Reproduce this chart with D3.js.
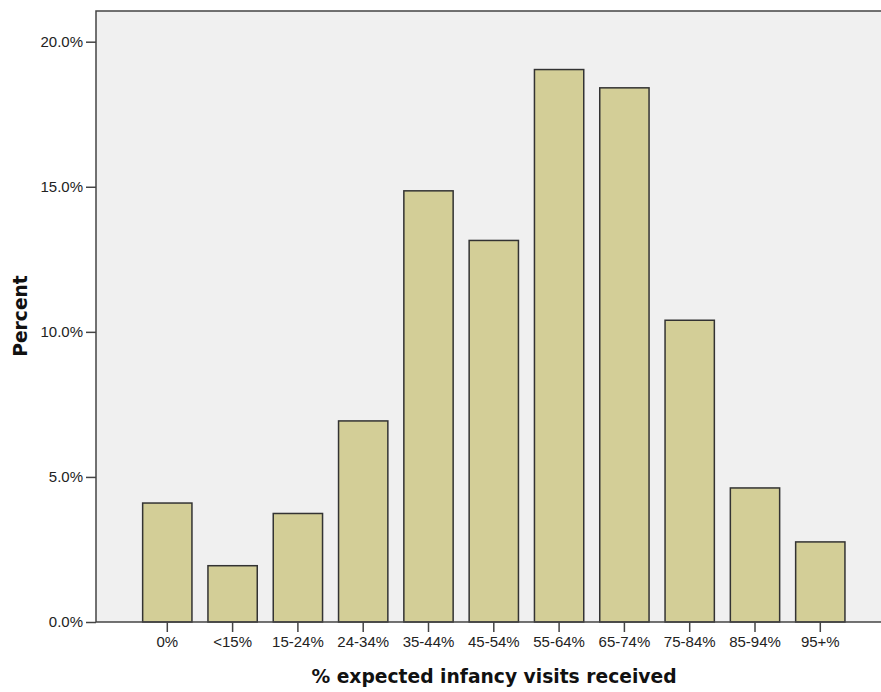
<!DOCTYPE html>
<html>
<head>
<meta charset="utf-8">
<script src="https://cdnjs.cloudflare.com/ajax/libs/d3/7.8.5/d3.min.js"></script>
<style>
  body { margin: 0; background: #fff; }
  svg { display: block; }
</style>
</head>
<body>
<svg id="chart" width="881" height="692"></svg>
<script>
'use strict';

var categories = ['0%', '<15%', '15-24%', '24-34%', '35-44%', '45-54%', '55-64%', '65-74%', '75-84%', '85-94%', '95+%'];
var percents = [4.1, 1.94, 3.74, 6.93, 14.86, 13.15, 19.04, 18.41, 10.4, 4.62, 2.76];
var yTicks = [0, 5, 10, 15, 20];

var svg = d3.select('#chart');
var plotLeft = 96, plotTop = 11, plotBottom = 622, plotRight = 900;

var x = d3.scaleBand()
  .domain(categories)
  .range([134.65, 134.65 + 65.3 * categories.length])
  .paddingInner(0.245)
  .paddingOuter(0.1225);

var y = d3.scaleLinear()
  .domain([0, 20])
  .range([plotBottom, 41.7]);

// plot background
svg.append('rect')
  .attr('x', plotLeft)
  .attr('y', plotTop)
  .attr('width', plotRight - plotLeft)
  .attr('height', plotBottom - plotTop)
  .style('fill', '#f0f0f0');

// bars
svg.append('g')
  .selectAll('rect')
  .data(percents)
  .enter()
  .append('rect')
  .attr('x', function(d, i) { return x(categories[i]); })
  .attr('y', function(d) { return y(d); })
  .attr('width', x.bandwidth())
  .attr('height', function(d) { return y(0) - y(d); })
  .style('fill', '#d3ce97')
  .style('stroke', '#333')
  .style('stroke-width', 1.5);

// frame: top and left
svg.append('path')
  .attr('d', 'M' + plotRight + ',' + plotTop + 'H' + plotLeft + 'V' + plotBottom)
  .style('fill', 'none')
  .style('stroke', '#444')
  .style('stroke-width', 1.5);

var yAxis = svg.append('g')
  .attr('transform', 'translate(' + plotLeft + ',0)')
  .call(d3.axisLeft(y)
    .tickValues(yTicks)
    .tickSize(10)
    .tickPadding(3)
    .tickFormat(function(d) { return d3.format('.1f')(d) + '%'; }));

var xAxis = svg.append('g')
  .attr('transform', 'translate(0,' + plotBottom + ')')
  .call(d3.axisBottom(x).tickSize(10).tickPadding(4));

xAxis.select('.domain')
  .attr('d', 'M' + plotLeft + ',0H' + plotRight);

[yAxis, xAxis].forEach(function(ax) {
  ax.selectAll('path, line')
    .style('stroke', '#444')
    .style('stroke-width', 1.5);
  ax.selectAll('text')
    .style('fill', '#222')
    .style('font-family', 'Liberation Sans, Arial, sans-serif')
    .style('font-size', '15px');
});
yAxis.select('.domain').remove();

// axis titles
svg.append('text')
  .attr('x', 494)
  .attr('y', 683)
  .attr('text-anchor', 'middle')
  .style('font-family', 'DejaVu Sans, sans-serif')
  .style('font-weight', 'bold')
  .style('font-size', '18.7px')
  .style('fill', '#111')
  .text('% expected infancy visits received');

svg.append('text')
  .attr('transform', 'translate(26.5,316) rotate(-90)')
  .attr('text-anchor', 'middle')
  .style('font-family', 'DejaVu Sans, sans-serif')
  .style('font-weight', 'bold')
  .style('font-size', '18.7px')
  .style('fill', '#111')
  .text('Percent');
</script>
</body>
</html>
